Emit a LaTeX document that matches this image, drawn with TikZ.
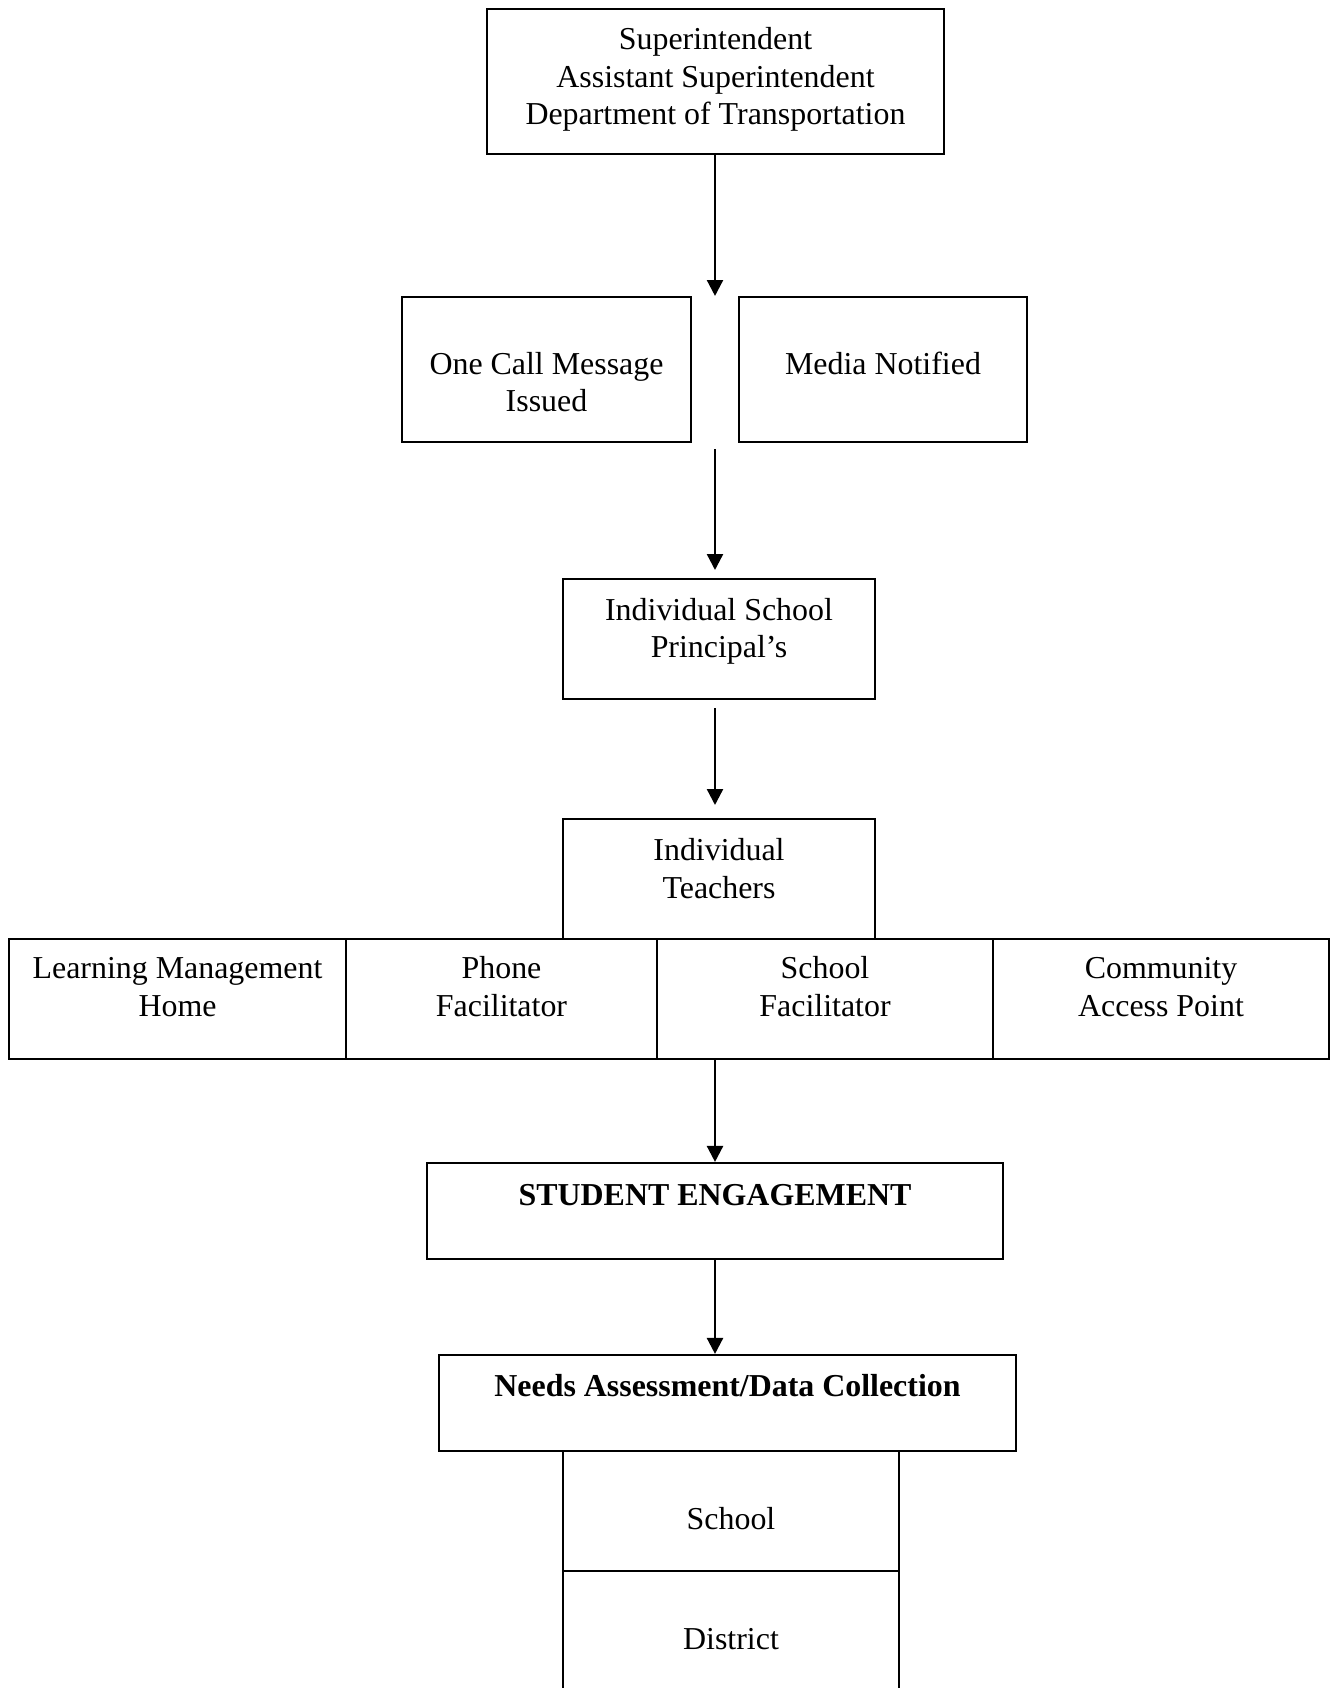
\documentclass[tikz,border=0pt]{standalone}
\usepackage{fontspec}
\setmainfont{Liberation Serif}
\usepackage{tikz}
\usetikzlibrary{positioning,arrows.meta}

\begin{document}
\begin{tikzpicture}[x=0.376pt, y=-0.376pt,
  box/.style={draw, line width=0.8pt, inner sep=0pt},
  txt/.style={align=center, inner sep=0pt, font=\fontsize{12}{14.1}\selectfont},
  arr/.style={line width=0.9pt, -{Triangle[width=6pt,length=6pt]}}]
%%% page frame %%%
\useasboundingbox (0,0) rectangle (1333,1688);
\clip (0,0) rectangle (1333,1688);

      %% leadership
      \node[box, minimum width=171.8pt, minimum height=54.5pt] (super) at (715.5,81.5) {};
      \node[txt, below=5.6pt of super.north] (super-t) {\strut Superintendent\\ Assistant Superintendent\\ Department of Transportation};
      %% notices
      \node[box, minimum width=108.7pt, minimum height=54.5pt] (onecall) at (546.5,369.5) {};
      \node[txt, below=19.4pt of onecall.north] (onecall-t) {\strut One Call Message\\ Issued};
      \node[box, minimum width=108.3pt, minimum height=54.5pt] (media) at (883,369.5) {};
      \node[txt, below=19.4pt of media.north] (media-t) {\strut Media Notified};
      %% principals
      \node[box, minimum width=117.3pt, minimum height=44.9pt] (principal) at (719,639) {};
      \node[txt, below=5.7pt of principal.north] (principal-t) {\strut Individual School\\ Principal’s};
      %% teachers
      \node[box, minimum width=117.3pt, minimum height=45pt] (teachers) at (719,879) {};
      \node[txt, below=5.9pt of teachers.north] (teachers-t) {\strut Individual\\ Teachers};
      %% delivery row
      \node[box, minimum width=126.7pt, minimum height=45.1pt] (lmh) at (177.5,999) {};
      \node[txt, below=5.2pt of lmh.north] (lmh-t) {\strut Learning Management\\ Home};
      \node[box, minimum width=116.9pt, minimum height=45.1pt] (phone) at (501.5,999) {};
      \node[txt, below=5.2pt of phone.north] (phone-t) {\strut Phone\\ Facilitator};
      \node[box, minimum width=126.3pt, minimum height=45.1pt] (schoolfac) at (825,999) {};
      \node[txt, below=5.2pt of schoolfac.north] (schoolfac-t) {\strut School\\ Facilitator};
      \node[box, minimum width=126.3pt, minimum height=45.1pt] (access) at (1161,999) {};
      \node[txt, below=5.2pt of access.north] (access-t) {\strut Community\\ Access Point};
      %% engagement
      \node[box, minimum width=216.6pt, minimum height=36.1pt] (engage) at (715,1211) {};
      \node[txt, font=\fontsize{12}{14.1}\selectfont\bfseries, below=6.3pt of engage.north] (engage-t) {\strut STUDENT ENGAGEMENT};
      %% needs assessment
      \node[box, minimum width=217pt, minimum height=36.1pt] (needs) at (727.5,1403) {};
      \node[txt, font=\fontsize{12}{14.1}\selectfont\bfseries, below=6.1pt of needs.north] (needs-t) {\strut Needs Assessment/Data Collection};
      \node[box, minimum width=126.3pt, minimum height=45.1pt] (school) at (731,1511) {};
      \node[txt, below=19.8pt of school.north] (school-t) {\strut School};
      \node[box, minimum width=126.3pt, minimum height=45.1pt] (district) at (731,1631) {};
      \node[txt, below=19.8pt of district.north] (district-t) {\strut District};

      %% arrows
      \coordinate (from2) at (715,449);
      \coordinate (to2) at (715,570);
      \coordinate (from3) at (715,708);
      \coordinate (to3) at (715,805);
      \coordinate (from4) at (715,1059);
      \draw[arr] (super.south -| to2) -- (onecall.north -| to2);
      \draw[arr] (from2) -- (to2);
      \draw[arr] (from3) -- (to3);
      \draw[arr] (from4) -- (engage.north);
      \draw[arr] (engage.south) -- (engage.south |- needs.north);

\end{tikzpicture}
\end{document}
